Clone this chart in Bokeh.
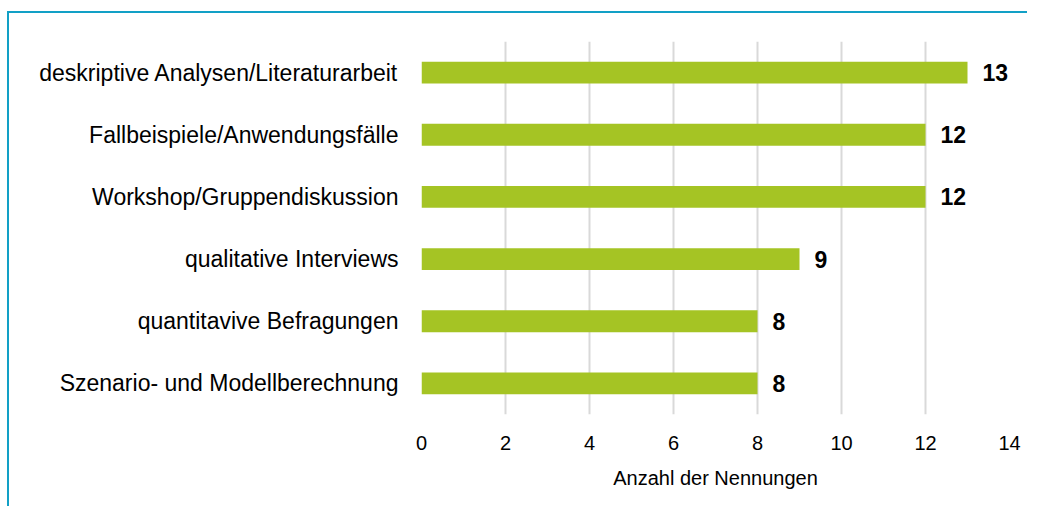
from bokeh.plotting import figure
from bokeh.models import ColumnDataSource, LabelSet, FixedTicker, Range1d
from bokeh.core.properties import value
from bokeh.embed import file_html
from bokeh.resources import INLINE

categories = [
    "deskriptive Analysen/Literaturarbeit",
    "Fallbeispiele/Anwendungsfälle",
    "Workshop/Gruppendiskussion",
    "qualitative Interviews",
    "quantitavive Befragungen",
    "Szenario- und Modellberechnung",
]
values = [13, 12, 12, 9, 8, 8]
x_ticks = [0, 2, 4, 6, 8, 10, 12, 14]

src = ColumnDataSource(dict(cat=categories, val=values, lab=[str(v) for v in values]))

FONT = "Liberation Sans"
W, H = 1020, 495
p = figure(
    width=W, height=H,
    y_range=list(reversed(categories)),
    x_range=Range1d(0, 14),
    output_backend="svg", toolbar_location=None,
    min_border_left=412, min_border_right=20,
    min_border_top=28, min_border_bottom=94,
)
p.styles = {"border-top": "2px solid #12a0c6", "border-left": "2px solid #12a0c6",
            "margin-top": "11px", "margin-left": "7px"}
p.outline_line_color = None

p.hbar(y="cat", right="val", left=0, height=0.35, source=src,
       fill_color="#a5c424", line_color=None)

labels = LabelSet(x="val", y="cat", text="lab", source=src,
                  x_offset=15, text_baseline="middle", text_align="left",
                  text_font=value(FONT), text_font_style="bold", text_font_size="23px",
                  text_color="#000000")
p.add_layout(labels)

p.xaxis.ticker = FixedTicker(ticks=x_ticks)
p.xaxis.axis_label = "Anzahl der Nennungen"
p.xaxis.axis_label_text_font = FONT
p.xaxis.axis_label_text_font_style = "normal"
p.xaxis.axis_label_text_font_size = "20px"
p.xaxis.axis_label_text_color = "#000000"
p.xaxis.axis_label_standoff = 14
p.xaxis.major_label_text_font = FONT
p.xaxis.major_label_text_font_size = "20px"
p.xaxis.major_label_text_color = "#000000"
p.xaxis.major_label_standoff = 15
p.xaxis.axis_line_color = None
p.xaxis.major_tick_line_color = None
p.xaxis.minor_tick_line_color = None

p.yaxis.major_label_text_font = FONT
p.yaxis.major_label_text_font_size = "23px"
p.yaxis.major_label_text_color = "#000000"
p.yaxis.major_label_standoff = 17
p.yaxis.axis_line_color = None
p.yaxis.major_tick_line_color = None

p.ygrid.grid_line_color = None
p.xgrid.grid_line_color = "#d9d9d9"
p.xgrid.grid_line_width = 2

open("out.html", "w").write(file_html(p, INLINE))
